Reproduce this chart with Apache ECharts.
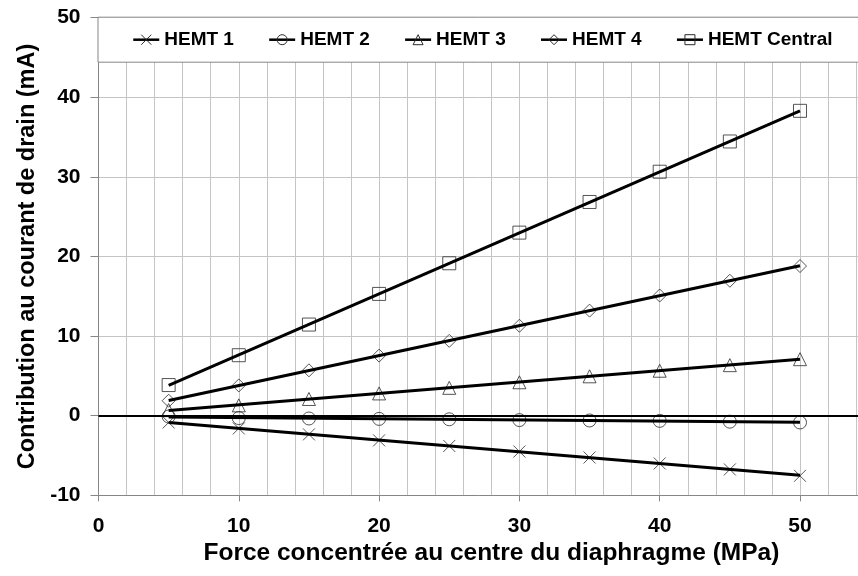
<!DOCTYPE html>
<html>
<head>
<meta charset="utf-8">
<title>Contribution au courant de drain</title>
<script src="https://cdn.jsdelivr.net/npm/echarts@6/dist/echarts.min.js"></script>
<style>
  html, body { margin: 0; padding: 0; background: #fff; }
  #chart { width: 858px; height: 576px; }
</style>
</head>
<body>
<div id="chart"></div>
<script>
// Force applied at the centre of the diaphragm (MPa)
const forces = [5, 10, 15, 20, 25, 30, 35, 40, 45, 50];

// Drain current contribution of each HEMT (mA)
const hemt1 = [-0.85, -1.6, -2.35, -3.1, -3.8, -4.5, -5.25, -6.0, -6.75, -7.55];
const hemt2 = [-0.1, -0.3, -0.35, -0.4, -0.45, -0.55, -0.6, -0.65, -0.75, -0.85];
const hemt3 = [0.7, 1.3, 2.1, 2.8, 3.5, 4.2, 4.95, 5.65, 6.35, 7.1];
const hemt4 = [1.88, 3.8, 5.7, 7.55, 9.4, 11.3, 13.2, 15.1, 16.95, 18.8];
const hemtCentral = [3.85, 7.6, 11.45, 15.3, 19.15, 23.0, 26.85, 30.65, 34.45, 38.3];

const seriesNames = ['HEMT 1', 'HEMT 2', 'HEMT 3', 'HEMT 4', 'HEMT Central'];
const seriesValues = [hemt1, hemt2, hemt3, hemt4, hemtCentral];

// Marker shapes: cross, circle, triangle, diamond, square
const markerShapes = [
  'path://M0,0L10,10M10,0L0,10',
  'circle',
  'triangle',
  'diamond',
  'rect'
];
const markerSizes = [12, 13, 13, 13, 13];

const FONT = "'Liberation Sans', Arial, Helvetica, sans-serif";
const AXIS_GREY = '#868686';
const GRID_GREY = '#c4c4c4';

// Least-squares straight line through a series, drawn over the measured range
function linearTrend(xs, ys) {
  const n = xs.length;
  let sx = 0, sy = 0, sxx = 0, sxy = 0;
  for (let i = 0; i < n; i++) {
    sx += xs[i]; sy += ys[i];
    sxx += xs[i] * xs[i]; sxy += xs[i] * ys[i];
  }
  const slope = (n * sxy - sx * sy) / (n * sxx - sx * sx);
  const intercept = (sy - slope * sx) / n;
  const x0 = xs[0], x1 = xs[n - 1];
  return [[x0, intercept + slope * x0], [x1, intercept + slope * x1]];
}

const markerStyle = {
  color: 'rgba(0,0,0,0)',
  borderColor: '#2a2a2a',
  borderWidth: 1
};

const trendSeries = seriesNames.map((name, k) => {
  const s = {
    name: name,
    type: 'line',
    data: linearTrend(forces, seriesValues[k]),
    symbol: markerShapes[k],
    symbolSize: markerSizes[k],
    showSymbol: false,
    itemStyle: markerStyle,
    lineStyle: { color: '#000', width: 3 },
    z: 4,
    silent: true
  };
  if (k === 0) {
    // Horizontal reference line at zero current
    s.markLine = {
      silent: true,
      symbol: ['none', 'none'],
      label: { show: false },
      lineStyle: { color: '#000', width: 2, type: 'solid' },
      data: [{ yAxis: 0 }]
    };
  }
  return s;
});

const pointSeries = seriesNames.map((name, k) => ({
  name: name,
  type: 'scatter',
  data: forces.map((f, i) => [f, seriesValues[k][i]]),
  symbol: markerShapes[k],
  symbolSize: markerSizes[k],
  itemStyle: markerStyle,
  z: 3,
  silent: true
}));

const chart = echarts.init(document.getElementById('chart'), null, { renderer: 'canvas' });

chart.setOption({
  animation: false,
  backgroundColor: '#fff',
  textStyle: { fontFamily: FONT },
  grid: {
    left: 98.5, top: 17.7, right: -82.3, bottom: 80.7,
    outerBoundsMode: 'none'
  },
  legend: {
    data: seriesNames,
    selectedMode: false,
    left: 98,
    top: 17.2,
    width: 760,
    orient: 'horizontal',
    itemWidth: 26,
    itemHeight: 12.5,
    itemGap: 34,
    padding: [13, 30, 13, 34],
    backgroundColor: '#fff',
    borderColor: AXIS_GREY,
    borderWidth: 1,
    itemStyle: { borderWidth: 1 },
    lineStyle: { width: 2.5 },
    textStyle: { fontFamily: FONT, fontSize: 19, fontWeight: 'bold', color: '#000' }
  },
  xAxis: {
    type: 'value',
    min: 0,
    max: 60,
    interval: 10,
    name: 'Force concentrée au centre du diaphragme (MPa)',
    nameLocation: 'middle',
    nameGap: 45,
    nameTextStyle: {
      fontFamily: FONT, fontSize: 24.5, fontWeight: 'bold', color: '#000',
      padding: [0, 56, 0, 0]
    },
    axisLine: { show: true, onZero: false, lineStyle: { color: AXIS_GREY, width: 1 } },
    axisTick: { show: true, length: 6, lineStyle: { color: AXIS_GREY } },
    axisLabel: { margin: 20, fontFamily: FONT, fontSize: 21, fontWeight: 'bold', color: '#000' },
    splitLine: { show: true, lineStyle: { color: GRID_GREY, width: 1 } },
    minorTick: { show: false, splitNumber: 5 },
    minorSplitLine: { show: true, lineStyle: { color: GRID_GREY, width: 1 } }
  },
  yAxis: {
    type: 'value',
    min: -10,
    max: 50,
    interval: 10,
    name: 'Contribution au courant de drain (mA)',
    nameLocation: 'middle',
    nameRotate: 90,
    nameGap: 58,
    nameTextStyle: { fontFamily: FONT, fontSize: 23.5, fontWeight: 'bold', color: '#000' },
    axisLine: { show: true, onZero: false, lineStyle: { color: AXIS_GREY, width: 1 } },
    axisTick: { show: true, length: 8, lineStyle: { color: AXIS_GREY } },
    axisLabel: { margin: 18, fontFamily: FONT, fontSize: 21, fontWeight: 'bold', color: '#000' },
    splitLine: { show: true, lineStyle: { color: GRID_GREY, width: 1 } }
  },
  series: trendSeries.concat(pointSeries)
});
</script>
</body>
</html>
